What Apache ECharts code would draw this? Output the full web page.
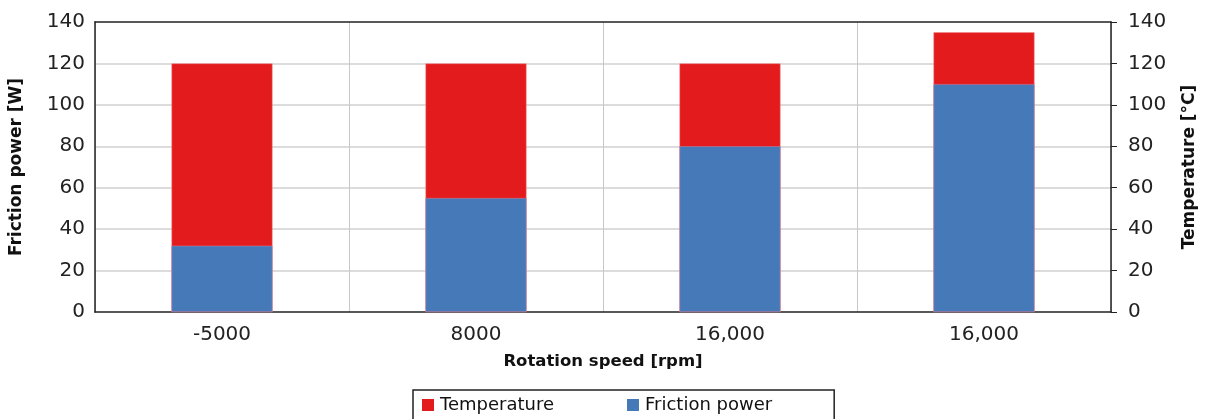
<!DOCTYPE html>
<html>
<head>
<meta charset="utf-8">
<script src="https://cdn.jsdelivr.net/npm/echarts@6/dist/echarts.min.js"></script>
<style>html,body{margin:0;padding:0;background:#fff}#c{width:1206px;height:419px}</style>
</head>
<body>
<div id="c"></div>
<script>
const categories = ['-5000', '8000', '16,000', '16,000'];
const temperature = [120, 120, 120, 135];
const frictionPower = [32, 55, 80, 110];
const yTicks = { min: 0, max: 140, interval: 20 };

const font = '"DejaVu Sans", sans-serif';
const chart = echarts.init(document.getElementById('c'));
chart.setOption({
  animation: false,
  textStyle: { fontFamily: font },
  grid: { left: 95, right: 95, top: 22, bottom: 107, outerBoundsMode: 'none', containLabel: false },
  legend: {
    left: 413, top: 390,
    padding: [6, 62, 12, 9],
    borderColor: '#222', borderWidth: 1.5,
    itemWidth: 12, itemHeight: 12, itemGap: 73,
    icon: 'rect',
    itemStyle: { borderWidth: 0 },
    textStyle: { fontSize: 18, color: '#111', fontFamily: font, padding: [0, 0, 0, 1] },
    data: ['Temperature', 'Friction power']
  },
  xAxis: [
    {
      type: 'category', data: categories,
      axisLine: { lineStyle: { color: '#222', width: 1.5 } },
      axisTick: { show: false },
      axisLabel: { fontSize: 20, color: '#222', margin: 13 },
      splitLine: { show: true, lineStyle: { color: '#c8c8c8', width: 1 } },
      name: 'Rotation speed [rpm]', nameLocation: 'middle', nameGap: 41,
      nameTextStyle: { fontSize: 16.5, fontWeight: 'bold', color: '#111' }
    },
    {
      type: 'category', data: categories, position: 'top', z: 10,
      axisLine: { show: true, onZero: false, lineStyle: { color: '#222', width: 1.5 } },
      axisTick: { show: false }, axisLabel: { show: false }, splitLine: { show: false }
    }
  ],
  yAxis: [
    {
      type: 'value', min: yTicks.min, max: yTicks.max, interval: yTicks.interval,
      axisLine: { show: true, lineStyle: { color: '#222', width: 1.5 } },
      axisTick: { show: false },
      axisLabel: { fontSize: 20, color: '#222', margin: 10 },
      splitLine: { showMaxLine: false, showMinLine: false, lineStyle: { color: '#d0d0d0', width: 1.5 } },
      name: 'Friction power [W]', nameLocation: 'middle', nameGap: 70, nameRotate: 90,
      nameTextStyle: { fontSize: 17, fontWeight: 'bold', color: '#111' }
    },
    {
      type: 'value', min: yTicks.min, max: yTicks.max, interval: yTicks.interval,
      position: 'right',
      axisLine: { show: true, lineStyle: { color: '#222', width: 1.5 } },
      axisTick: { show: true, length: 6, lineStyle: { color: '#222' } },
      axisLabel: { fontSize: 20, color: '#222', margin: 17 },
      splitLine: { show: false },
      name: 'Temperature [°C]', nameLocation: 'middle', nameGap: 70, nameRotate: 90,
      nameTextStyle: { fontSize: 17, fontWeight: 'bold', color: '#111' }
    }
  ],
  series: [
    {
      name: 'Temperature', type: 'bar', yAxisIndex: 1, data: temperature,
      barWidth: 101, barGap: '-100%',
      itemStyle: { color: '#e31b1d', borderColor: '#f08a8a', borderWidth: 0.5 }
    },
    {
      name: 'Friction power', type: 'bar', yAxisIndex: 0, data: frictionPower,
      barWidth: 101, barGap: '-100%',
      itemStyle: { color: '#4679b8', borderColor: '#c98aa8', borderWidth: 0.5 }
    }
  ]
});
</script>
</body>
</html>
